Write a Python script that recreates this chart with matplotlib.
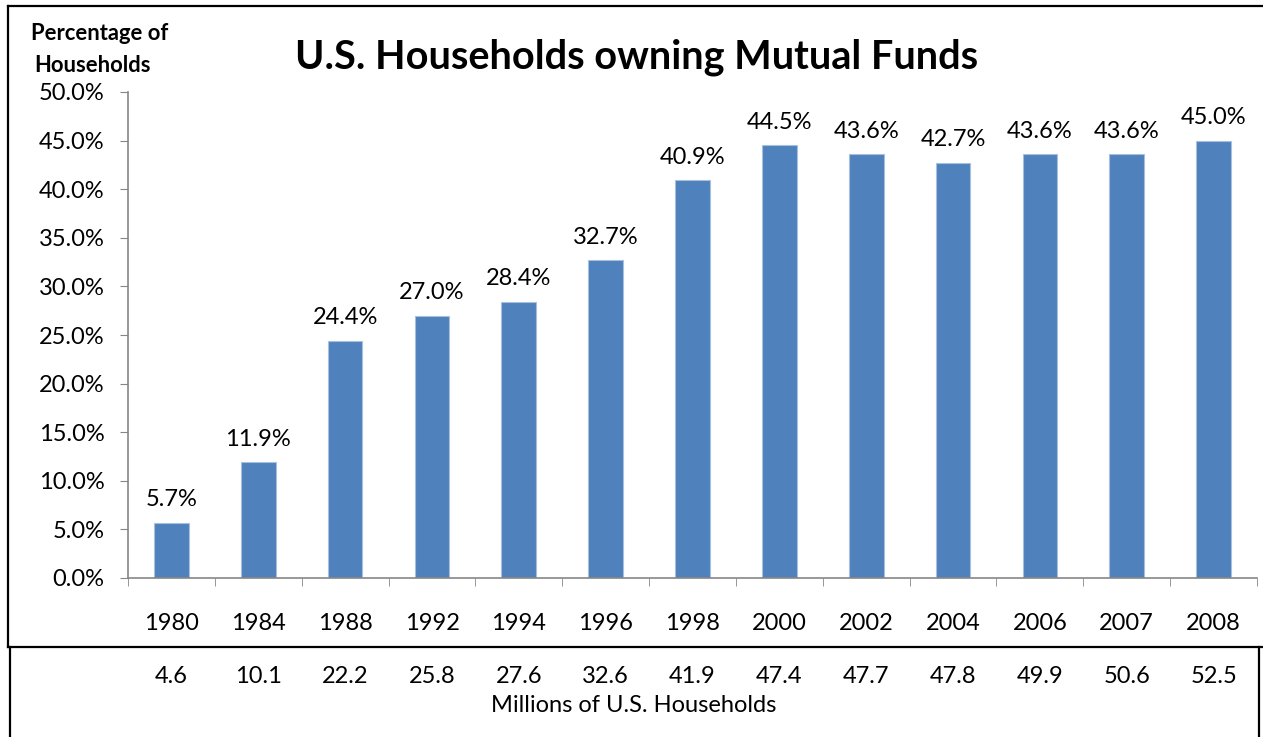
import numpy as np
import matplotlib.pyplot as plt
from matplotlib.lines import Line2D

# Datos
years = ['1980', '1984', '1988', '1992', '1994', '1996', '1998', '2000',
         '2002', '2004', '2006', '2007', '2008']
pct = [5.7, 11.9, 24.4, 27.0, 28.4, 32.7, 40.9, 44.5, 43.6, 42.7, 43.6, 43.6, 45.0]
millions = ['4.6', '10.1', '22.2', '25.8', '27.6', '32.6', '41.9', '47.4',
            '47.7', '47.8', '49.9', '50.6', '52.5']

plt.rcParams['font.family'] = ['Lato', 'DejaVu Sans']
fs = 17

fig = plt.figure(figsize=(12.63, 7.37), dpi=100)
ax = fig.add_axes([128 / 1263, 1 - 578 / 737, (1257 - 128) / 1263, (578 - 92) / 737])

x = np.arange(len(years))
bars = ax.bar(x, pct, width=0.4, color='#4F81BD', edgecolor='#A7C0DE', linewidth=0.8)

for xi, v in zip(x, pct):
    ax.annotate(f'{v:.1f}%', (xi, v), xytext=(0, 9), textcoords='offset points',
                ha='center', va='bottom', fontsize=fs)

ax.set_xlim(-0.5, len(years) - 0.5)
ax.set_ylim(0, 50)
ax.set_yticks(np.arange(0, 50.1, 5))
ax.set_yticklabels([f'{t:.1f}%' for t in np.arange(0, 50.1, 5)], fontsize=fs)

ax.set_xticks(x)
ax.set_xticklabels(years, fontsize=fs)
ax.set_xticks(np.arange(-0.5, len(years), 1), minor=True)
ax.tick_params(axis='x', which='major', length=0, pad=25)
ax.tick_params(axis='x', which='minor', length=6, color='#868686', direction='out')
ax.tick_params(axis='y', length=6, color='#868686', pad=11)

for s in ['top', 'right']:
    ax.spines[s].set_visible(False)
for s in ['left', 'bottom']:
    ax.spines[s].set_color('#868686')
    ax.spines[s].set_linewidth(1.2)

# Fila de millones de hogares
for xi, m in zip(x, millions):
    ax.text(xi, -10.1, m, ha='center', va='center', fontsize=fs, transform=ax.transData,
            clip_on=False)

fig.text(634 / 1263, 1 - 705 / 737, 'Millions of U.S. Households', ha='center', va='center',
         fontsize=fs)

# Titulos
fig.text(637 / 1263, 1 - 57 / 737, 'U.S. Households owning Mutual Funds', ha='center',
         va='center', fontsize=28.5, fontweight='bold')
fig.text(100 / 1263, 1 - 33 / 737, 'Percentage of', ha='center', va='center',
         fontsize=15.8, fontweight='bold')
fig.text(93 / 1263, 1 - 65 / 737, 'Households', ha='center', va='center',
         fontsize=15.8, fontweight='bold')

# Marcos
def fline(x0, y0, x1, y1):
    fig.add_artist(Line2D([x0 / 1263, x1 / 1263], [1 - y0 / 737, 1 - y1 / 737],
                          color='black', linewidth=1.6))

fline(8, 6, 1263, 6)
fline(8, 6, 8, 647)
fline(8, 647, 1263, 647)
fline(10, 647, 10, 737)
fline(1259, 647, 1259, 737)

plt.savefig('out.png', dpi=100)
